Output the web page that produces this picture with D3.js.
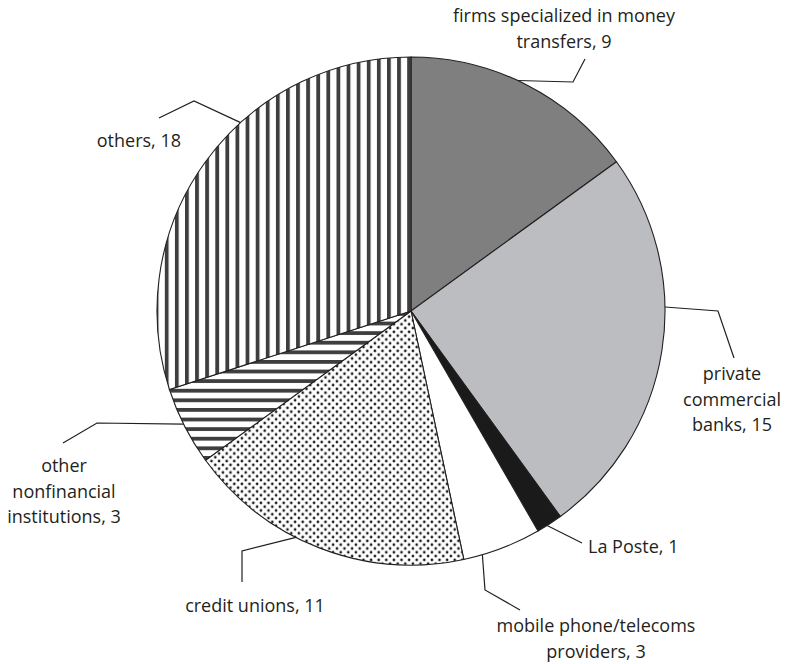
<!DOCTYPE html>
<html>
<head>
<meta charset="utf-8">
<script src="https://cdn.jsdelivr.net/npm/d3@7"></script>
<style>
  body { margin: 0; background: #fff; }
  svg { display: block; }
  text { font-family: "Open Sans", sans-serif; font-size: 18px; fill: #231f20; }
</style>
</head>
<body>
<svg width="787" height="664"></svg>
<script>
// data
const categories = ['firms specialized in money transfers', 'private commercial banks', 'La Poste',
  'mobile phone/telecoms providers', 'credit unions', 'other nonfinancial institutions', 'others'];
const values = [9, 15, 1, 3, 11, 3, 18];
const labelRows = [
  ['firms specialized in money', 'transfers, 9'],
  ['private', 'commercial', 'banks, 15'],
  ['La Poste, 1'],
  ['mobile phone/telecoms', 'providers, 3'],
  ['credit unions, 11'],
  ['other', 'nonfinancial', 'institutions, 3'],
  ['others, 18']
];

let width = 787;
let height = 664;
let cx = 411, cy = 311, radius = 254;

let svg = d3.select('svg');
let defs = svg.append('defs');

// fills
let vert = defs.append('pattern')
  .attr('id', 'vstripe')
  .attr('patternUnits', 'userSpaceOnUse')
  .attr('x', -3.8).attr('y', 0)
  .attr('width', 10.1).attr('height', 10);
vert.append('rect').attr('width', 10.1).attr('height', 10).attr('fill', '#fff');
vert.append('rect').attr('x', 0).attr('width', 3.8).attr('height', 10).attr('fill', '#3e3e3e');

let horiz = defs.append('pattern')
  .attr('id', 'hstripe')
  .attr('patternUnits', 'userSpaceOnUse')
  .attr('x', 0).attr('y', 1)
  .attr('width', 10).attr('height', 9.6);
horiz.append('rect').attr('width', 10).attr('height', 9.6).attr('fill', '#fff');
horiz.append('rect').attr('y', 0).attr('width', 10).attr('height', 3.8).attr('fill', '#3e3e3e');

let dots = defs.append('pattern')
  .attr('id', 'dots')
  .attr('patternUnits', 'userSpaceOnUse')
  .attr('width', 7.6).attr('height', 7.6);
dots.append('rect').attr('width', 7.6).attr('height', 7.6).attr('fill', '#fff');
dots.append('circle').attr('cx', 1.9).attr('cy', 1.9).attr('r', 1.35).attr('fill', '#1a1a1a');
dots.append('circle').attr('cx', 5.7).attr('cy', 5.7).attr('r', 1.35).attr('fill', '#1a1a1a');

let fills = ['#7f7f80', '#bcbdc0', '#1a1a1a', '#ffffff', 'url(#dots)', 'url(#hstripe)', 'url(#vstripe)'];

let pie = d3.pie().sort(null).value(d => d);
let arcs = pie(values);
let arc = d3.arc().innerRadius(0).outerRadius(radius);

let g = svg.append('g').attr('transform', `translate(${cx}, ${cy})`);

g.selectAll('path')
  .data(arcs)
  .enter()
  .append('path')
    .attr('d', arc)
    .attr('fill', (d, i) => fills[i])
    .attr('stroke', '#231f20')
    .attr('stroke-width', 1.1);

// leader lines: where on the slice edge they start, then bend and end (page coords)
let leaders = [
  { frac: 0.46, pts: [[573, 82], [585, 59]] },
  { frac: 0.39, pts: [[718, 311], [734, 358]] },
  { frac: 0.60, pts: [[582, 543]] },
  { frac: 0.76, pts: [[485, 590], [520, 610]] },
  { frac: 0.59, pts: [[242, 551], [242, 582]] },
  { frac: 0.53, pts: [[97, 423], [63, 443]] },
  { frac: 0.61, pts: [[194, 101], [159, 118]] }
];

let line = d3.line();
arcs.forEach((d, i) => {
  let a = d.startAngle + leaders[i].frac * (d.endAngle - d.startAngle);
  let start = [cx + radius * Math.sin(a), cy - radius * Math.cos(a)];
  svg.append('path')
    .attr('d', line([start].concat(leaders[i].pts)))
    .attr('fill', 'none')
    .attr('stroke', '#231f20')
    .attr('stroke-width', 1.2);
});

// labels
let labelPos = [
  { x: 564, y: 22, anchor: 'middle' },
  { x: 732, y: 380, anchor: 'middle' },
  { x: 588, y: 553, anchor: 'start' },
  { x: 596, y: 632, anchor: 'middle' },
  { x: 255, y: 612, anchor: 'middle' },
  { x: 64, y: 472, anchor: 'middle' },
  { x: 181, y: 147, anchor: 'end' }
];
let lineHeight = 25.5;

labelRows.forEach((rows, i) => {
  let t = svg.append('text')
    .attr('x', labelPos[i].x)
    .attr('y', labelPos[i].y)
    .attr('text-anchor', labelPos[i].anchor);
  rows.forEach((r, j) => {
    t.append('tspan')
      .attr('x', labelPos[i].x)
      .attr('dy', j === 0 ? 0 : lineHeight)
      .text(r);
  });
});
</script>
</body>
</html>
